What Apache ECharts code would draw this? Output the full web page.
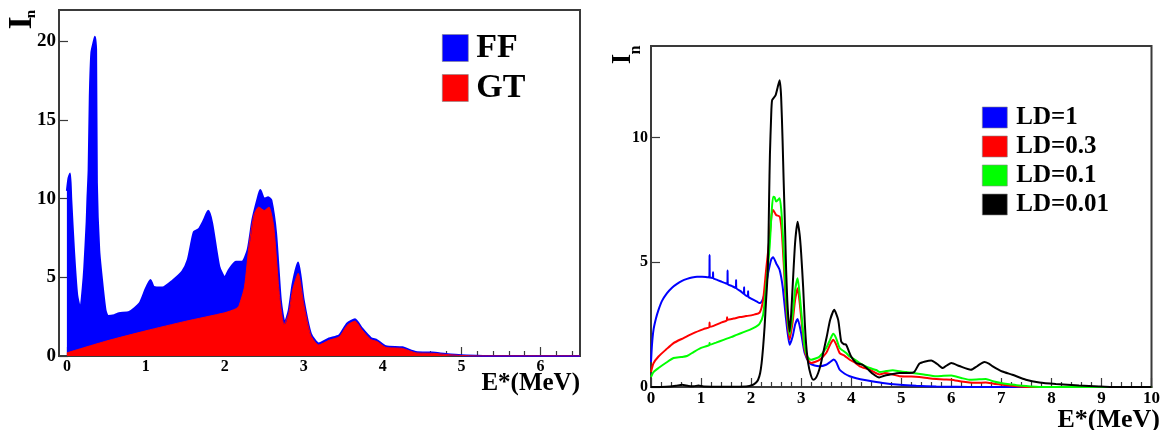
<!DOCTYPE html>
<html>
<head>
<meta charset="utf-8">
<script src="https://cdn.jsdelivr.net/npm/echarts@6/dist/echarts.min.js"></script>
<style>
  html, body { margin: 0; padding: 0; background: #fff; }
  #chart { width: 1163px; height: 430px; }
</style>
</head>
<body>
<div id="chart"></div>
<script>
// ---- Left panel: strength distributions [E* (MeV), I_n] ----
const FF = [
  [0, 10.5], [0.02, 11.3], [0.04, 11.6], [0.055, 10], [0.09, 6.7], [0.13, 3.9], [0.17, 3.0],
  [0.2, 4.3], [0.22, 5.6], [0.25, 8.5], [0.26, 10], [0.275, 11.8], [0.29, 16.5], [0.31, 19.3],
  [0.34, 20.0], [0.355, 20.3], [0.37, 19.5], [0.38, 11], [0.41, 6.7], [0.45, 4.6], [0.49, 2.9],
  [0.52, 2.55], [0.6, 2.6], [0.66, 2.72], [0.79, 2.8], [0.92, 3.35], [1.0, 4.3], [1.06, 4.83],
  [1.1, 4.4], [1.21, 4.35], [1.34, 4.8], [1.46, 5.36], [1.53, 6.1], [1.58, 7.3], [1.61, 7.9],
  [1.67, 8.07], [1.73, 8.6], [1.79, 9.23], [1.84, 8.45], [1.93, 5.7], [2.0, 5.0], [2.05, 5.47],
  [2.14, 6.0], [2.22, 6.0], [2.29, 6.75], [2.35, 8.66], [2.41, 9.9], [2.45, 10.55], [2.5, 10.0],
  [2.55, 10.1], [2.59, 9.9], [2.65, 7.8], [2.71, 3.55], [2.76, 2.1], [2.81, 2.9], [2.86, 4.6],
  [2.93, 5.94], [3.0, 3.55], [3.09, 1.43], [3.19, 0.79], [3.32, 1.11], [3.45, 1.32], [3.55, 2.07],
  [3.65, 2.34], [3.74, 1.75], [3.85, 1.15], [3.93, 1.0], [4.04, 0.62], [4.25, 0.55], [4.42, 0.26],
  [4.63, 0.22], [4.8, 0.13], [5.0, 0.05], [5.2, 0.02], [5.4, 0], [6.5, 0]
];
const GT = [
  [0, 0.2], [0.5, 0.95], [1.0, 1.6], [1.5, 2.2], [2.0, 2.75], [2.14, 3.0], [2.18, 3.2], [2.25, 4.4],
  [2.31, 7.17], [2.37, 8.98], [2.43, 9.47], [2.5, 9.25], [2.56, 9.47], [2.62, 8.23], [2.69, 3.98],
  [2.75, 2.0], [2.81, 2.7], [2.86, 4.2], [2.93, 5.26], [3.0, 3.3], [3.09, 1.3], [3.19, 0.7],
  [3.32, 1.0], [3.45, 1.22], [3.55, 1.95], [3.65, 2.22], [3.74, 1.65], [3.85, 1.05], [3.93, 0.92],
  [4.04, 0.55], [4.25, 0.48], [4.42, 0.2], [4.63, 0.17], [4.8, 0.1], [5.0, 0.03], [5.2, 0], [6.5, 0]
];

// ---- Right panel: level-density dependence [E* (MeV), I_n] ----
const LD_1 = [
  [0, 1.0], [0.02, 1.7], [0.05, 2.29], [0.1, 2.75], [0.15, 3.09], [0.22, 3.45], [0.32, 3.76],
  [0.42, 3.98], [0.52, 4.13], [0.62, 4.25], [0.72, 4.33], [0.82, 4.39], [0.92, 4.42], [1.02, 4.42],
  [1.12, 4.4], [1.165, 4.39], [1.17, 5.29], [1.175, 4.39], [1.235, 4.37], [1.24, 4.6], [1.245, 4.36],
  [1.31, 4.3], [1.41, 4.22], [1.525, 4.13], [1.53, 4.67], [1.535, 4.12], [1.61, 4.05],
  [1.695, 3.97], [1.70, 4.29], [1.705, 3.96], [1.79, 3.84], [1.855, 3.73], [1.86, 4.0], [1.865, 3.72],
  [1.935, 3.63], [1.94, 3.84], [1.945, 3.62], [2.01, 3.53], [2.11, 3.43], [2.17, 3.36], [2.22, 3.45],
  [2.27, 3.76], [2.34, 4.56], [2.4, 5.1], [2.44, 5.2], [2.5, 4.96], [2.57, 4.69], [2.63, 4.02],
  [2.7, 2.69], [2.77, 1.69], [2.83, 2.02], [2.88, 2.5], [2.93, 2.72], [3.0, 2.16], [3.07, 1.36],
  [3.17, 0.96], [3.27, 0.86], [3.37, 0.83], [3.5, 0.89], [3.58, 1.0], [3.65, 1.1], [3.7, 1.0],
  [3.77, 0.69], [3.87, 0.53], [3.97, 0.43], [4.1, 0.35], [4.3, 0.27], [4.63, 0.16], [4.97, 0.09],
  [5.3, 0.05], [5.7, 0.02], [6.1, 0.01], [6.6, 0], [10, 0]
];
const LD_03 = [
  [0, 0.6], [0.05, 0.95], [0.15, 1.22], [0.3, 1.5], [0.45, 1.76], [0.65, 1.96], [0.85, 2.16],
  [1.05, 2.32], [1.165, 2.4], [1.17, 2.58], [1.175, 2.41], [1.25, 2.45], [1.4, 2.58], [1.515, 2.67],
  [1.52, 2.79], [1.525, 2.69], [1.65, 2.74], [1.78, 2.8], [1.9, 2.84], [2.04, 2.89], [2.17, 2.98],
  [2.24, 3.49], [2.3, 4.69], [2.37, 6.0], [2.41, 6.9], [2.44, 7.09], [2.5, 6.89], [2.57, 6.83],
  [2.61, 6.3], [2.65, 5.0], [2.7, 3.2], [2.77, 1.9], [2.83, 2.6], [2.88, 3.5], [2.93, 3.96],
  [2.98, 3.2], [3.03, 2.2], [3.07, 1.49], [3.13, 1.1], [3.2, 0.96], [3.3, 1.02], [3.37, 1.09],
  [3.5, 1.36], [3.58, 1.7], [3.64, 1.89], [3.7, 1.7], [3.77, 1.36], [3.87, 1.25], [3.97, 1.09],
  [4.07, 0.98], [4.17, 0.83], [4.37, 0.69], [4.57, 0.5], [4.67, 0.56], [4.83, 0.5], [4.97, 0.43],
  [5.2, 0.42], [5.36, 0.4], [5.55, 0.35], [5.7, 0.32], [5.85, 0.3], [6.0, 0.29], [6.2, 0.22],
  [6.36, 0.18], [6.5, 0.17], [6.69, 0.18], [6.85, 0.13], [7.02, 0.09], [7.2, 0.05], [7.36, 0.02],
  [7.6, 0], [10, 0]
];
const LD_01 = [
  [0, 0.4], [0.05, 0.6], [0.15, 0.76], [0.3, 0.97], [0.45, 1.16], [0.6, 1.2], [0.72, 1.24],
  [0.85, 1.4], [0.99, 1.56], [1.165, 1.68], [1.17, 1.76], [1.175, 1.69], [1.3, 1.78], [1.45, 1.89],
  [1.6, 2.0], [1.71, 2.09], [1.85, 2.2], [1.97, 2.29], [2.1, 2.42], [2.17, 2.53], [2.24, 2.89],
  [2.3, 4.02], [2.37, 5.6], [2.41, 7.0], [2.44, 7.62], [2.47, 7.6], [2.5, 7.43], [2.57, 7.56],
  [2.61, 6.9], [2.65, 5.5], [2.7, 3.5], [2.77, 2.09], [2.83, 2.9], [2.88, 3.9], [2.93, 4.36],
  [2.98, 3.5], [3.03, 2.4], [3.07, 1.62], [3.13, 1.2], [3.2, 1.09], [3.3, 1.15], [3.37, 1.22],
  [3.5, 1.56], [3.58, 1.9], [3.64, 2.13], [3.7, 1.95], [3.77, 1.56], [3.84, 1.45], [3.9, 1.36],
  [3.97, 1.22], [4.07, 1.1], [4.17, 0.96], [4.27, 0.85], [4.37, 0.76], [4.5, 0.68], [4.57, 0.6],
  [4.7, 0.64], [4.83, 0.67], [4.97, 0.63], [5.1, 0.6], [5.23, 0.56], [5.45, 0.5], [5.7, 0.43],
  [5.85, 0.45], [6.0, 0.46], [6.2, 0.36], [6.36, 0.29], [6.5, 0.3], [6.69, 0.32], [6.85, 0.22],
  [7.02, 0.15], [7.2, 0.1], [7.36, 0.06], [7.69, 0.01], [7.8, 0], [10, 0]
];
const LD_001 = [
  [0, 0], [0.3, 0.01], [0.5, 0.05], [0.62, 0.09], [0.75, 0.04], [0.85, 0.03], [0.95, 0.06],
  [1.05, 0.02], [1.5, 0.01], [1.9, 0.02], [2.04, 0.09], [2.1, 0.18], [2.14, 0.29], [2.18, 0.55],
  [2.21, 0.96], [2.24, 1.6], [2.27, 2.42], [2.3, 3.5], [2.33, 4.5], [2.346, 5.8], [2.36, 7.6],
  [2.376, 9.3], [2.4, 10.8], [2.42, 11.49], [2.49, 11.69], [2.53, 12.0], [2.57, 12.29],
  [2.6, 11.63], [2.63, 9.8], [2.65, 8.29], [2.68, 6.2], [2.7, 4.69], [2.73, 3.2], [2.77, 2.22],
  [2.8, 2.9], [2.83, 4.02], [2.88, 5.8], [2.93, 6.62], [2.97, 6.1], [3.0, 5.36], [3.04, 4.0],
  [3.07, 2.69], [3.1, 1.7], [3.14, 0.96], [3.19, 0.5], [3.24, 0.29], [3.29, 0.35], [3.34, 0.56],
  [3.39, 0.9], [3.44, 1.36], [3.51, 2.0], [3.58, 2.69], [3.66, 3.09], [3.74, 2.69], [3.8, 1.82],
  [3.85, 1.72], [3.9, 1.69], [3.95, 1.45], [4.0, 1.22], [4.1, 0.96], [4.23, 0.89], [4.33, 0.72],
  [4.43, 0.53], [4.56, 0.38], [4.66, 0.45], [4.76, 0.49], [4.97, 0.56], [5.16, 0.56], [5.26, 0.6],
  [5.36, 0.93], [5.48, 1.02], [5.6, 1.06], [5.72, 0.92], [5.83, 0.76], [5.92, 0.88], [6.0, 0.96],
  [6.16, 0.84], [6.39, 0.69], [6.52, 0.84], [6.66, 1.0], [6.75, 0.94], [6.82, 0.84], [7.02, 0.62],
  [7.22, 0.49], [7.49, 0.29], [7.76, 0.18], [8.09, 0.12], [8.55, 0.06], [8.95, 0.02], [9.2, 0],
  [10, 0]
];

// tick positions
const LEFT_X_TICKS = [0, 1, 2, 3, 4, 5, 6];
const LEFT_X_MINOR = [];
for (let i = 0; i <= 32; i++) { if (i % 5 !== 0) LEFT_X_MINOR.push(+(i * 0.2).toFixed(1)); }
const LEFT_Y_TICKS = [0, 5, 10, 15, 20];
const RIGHT_Y_TICKS = [0, 5, 10];

const SERIF = '"Liberation Serif", "DejaVu Serif", "Times New Roman", serif';
const FRAME = '#3a3a3a';
const SMOOTH = 0.2;

const chart = echarts.init(document.getElementById('chart'), null, { renderer: 'canvas' });

const baseLine = { show: true, onZero: false, lineStyle: { color: FRAME, width: 2 } };
const tickStyle = { color: FRAME, width: 1.2 };

function labelStyle(size) {
  return { color: '#000', fontFamily: SERIF, fontWeight: 'bold', fontSize: size };
}

function curve(name, data, color, xi, yi, extra) {
  return Object.assign({
    name: name, type: 'line', xAxisIndex: xi, yAxisIndex: yi, data: data,
    symbol: 'none', color: color, smooth: SMOOTH,
    lineStyle: { color: color, width: 2 }
  }, extra || {});
}

const option = {
  animation: false,
  backgroundColor: '#fff',
  grid: [
    { left: 59, top: 10, right: 583, bottom: 74, show: true, borderColor: FRAME, borderWidth: 2, backgroundColor: 'transparent' },
    { left: 651, top: 46, right: 10, bottom: 43, show: true, borderColor: FRAME, borderWidth: 2, backgroundColor: 'transparent' }
  ],
  xAxis: [
    {
      gridIndex: 0, type: 'value', min: -0.1, max: 6.5, position: 'bottom',
      axisLine: baseLine,
      axisTick: { show: true, inside: true, length: 9, lineStyle: tickStyle, customValues: LEFT_X_TICKS },
      axisLabel: Object.assign({ margin: 3, customValues: LEFT_X_TICKS }, labelStyle(16)),
      splitLine: { show: false }
    },
    {
      gridIndex: 0, type: 'value', min: -0.1, max: 6.5, position: 'bottom',
      axisLine: { show: false },
      axisTick: { show: true, inside: true, length: 5, lineStyle: tickStyle, customValues: LEFT_X_MINOR },
      axisLabel: { show: false },
      splitLine: { show: false }
    },
    {
      gridIndex: 1, type: 'value', min: 0, max: 10, interval: 1, position: 'bottom',
      axisLine: baseLine,
      axisTick: { show: true, inside: true, length: 9, lineStyle: tickStyle },
      minorTick: { show: true, splitNumber: 5, length: 5, lineStyle: tickStyle },
      axisLabel: Object.assign({ margin: 3 }, labelStyle(17)),
      splitLine: { show: false }
    }
  ],
  yAxis: [
    {
      gridIndex: 0, type: 'value', min: 0, max: 22,
      axisLine: baseLine,
      axisTick: { show: true, inside: true, length: 9, lineStyle: tickStyle, customValues: LEFT_Y_TICKS },
      axisLabel: Object.assign({ margin: 3, customValues: LEFT_Y_TICKS }, labelStyle(19)),
      splitLine: { show: false }
    },
    {
      gridIndex: 1, type: 'value', min: 0, max: 13.66,
      axisLine: baseLine,
      axisTick: { show: true, inside: true, length: 9, lineStyle: tickStyle, customValues: RIGHT_Y_TICKS },
      axisLabel: Object.assign({ margin: 3, customValues: RIGHT_Y_TICKS }, labelStyle(16)),
      splitLine: { show: false }
    }
  ],
  legend: [
    {
      data: ['FF', 'GT'], orient: 'vertical', left: 437, top: 26, selectedMode: false,
      icon: 'rect', itemWidth: 26, itemHeight: 27, itemGap: 6,
      itemStyle: { borderColor: '#888', borderWidth: 0.6 },
      textStyle: { fontFamily: SERIF, fontWeight: 'bold', fontSize: 34, lineHeight: 27, color: '#000', padding: [0, 0, 0, 3] }
    },
    {
      data: ['LD=1', 'LD=0.3', 'LD=0.1', 'LD=0.01'], orient: 'vertical', left: 977, top: 100, selectedMode: false,
      icon: 'rect', itemWidth: 25, itemHeight: 21, itemGap: 4,
      itemStyle: { borderColor: '#888', borderWidth: 0.6 },
      textStyle: { fontFamily: SERIF, fontWeight: 'bold', fontSize: 25, lineHeight: 21, color: '#000', padding: [0, 0, 0, 4] }
    }
  ],
  series: [
    curve('FF', FF, '#0000ff', 0, 0, { areaStyle: { color: '#0000ff', opacity: 1 } }),
    curve('GT', GT, '#ff0000', 0, 0, { lineStyle: { color: '#ff0000', width: 1 }, areaStyle: { color: '#ff0000', opacity: 1 } }),
    curve('LD=1', LD_1, '#0000ff', 2, 1),
    curve('LD=0.3', LD_03, '#ff0000', 2, 1),
    curve('LD=0.1', LD_01, '#00ff00', 2, 1),
    curve('LD=0.01', LD_001, '#000000', 2, 1)
  ],
  graphic: [
    // axis titles
    {
      type: 'text', x: 580, y: 371, silent: true,
      style: { text: 'E*(MeV)', fill: '#000', fontFamily: SERIF, fontWeight: 'bold', fontSize: 25,
               align: 'right', verticalAlign: 'top', textAlign: 'right', textVerticalAlign: 'top' }
    },
    {
      type: 'text', x: 1160, y: 407, silent: true,
      style: { text: 'E*(MeV)', fill: '#000', fontFamily: SERIF, fontWeight: 'bold', fontSize: 26,
               align: 'right', verticalAlign: 'top', textAlign: 'right', textVerticalAlign: 'top' }
    },
    {
      type: 'text', x: 22, y: 23, rotation: Math.PI / 2, silent: true,
      style: { text: 'I', fill: '#000', fontFamily: SERIF, fontWeight: 'bold', fontSize: 34,
               align: 'center', verticalAlign: 'middle', textAlign: 'center', textVerticalAlign: 'middle' }
    },
    {
      type: 'text', x: 31, y: 14, rotation: Math.PI / 2, silent: true,
      style: { text: 'n', fill: '#000', fontFamily: SERIF, fontWeight: 'bold', fontSize: 15,
               align: 'center', verticalAlign: 'middle', textAlign: 'center', textVerticalAlign: 'middle' }
    },
    {
      type: 'text', x: 623, y: 59, rotation: Math.PI / 2, silent: true,
      style: { text: 'I', fill: '#000', fontFamily: SERIF, fontWeight: 'bold', fontSize: 27,
               align: 'center', verticalAlign: 'middle', textAlign: 'center', textVerticalAlign: 'middle' }
    },
    {
      type: 'text', x: 636, y: 50, rotation: Math.PI / 2, silent: true,
      style: { text: 'n', fill: '#000', fontFamily: SERIF, fontWeight: 'bold', fontSize: 16,
               align: 'center', verticalAlign: 'middle', textAlign: 'center', textVerticalAlign: 'middle' }
    }
  ]
};

chart.setOption(option);
</script>
</body>
</html>
